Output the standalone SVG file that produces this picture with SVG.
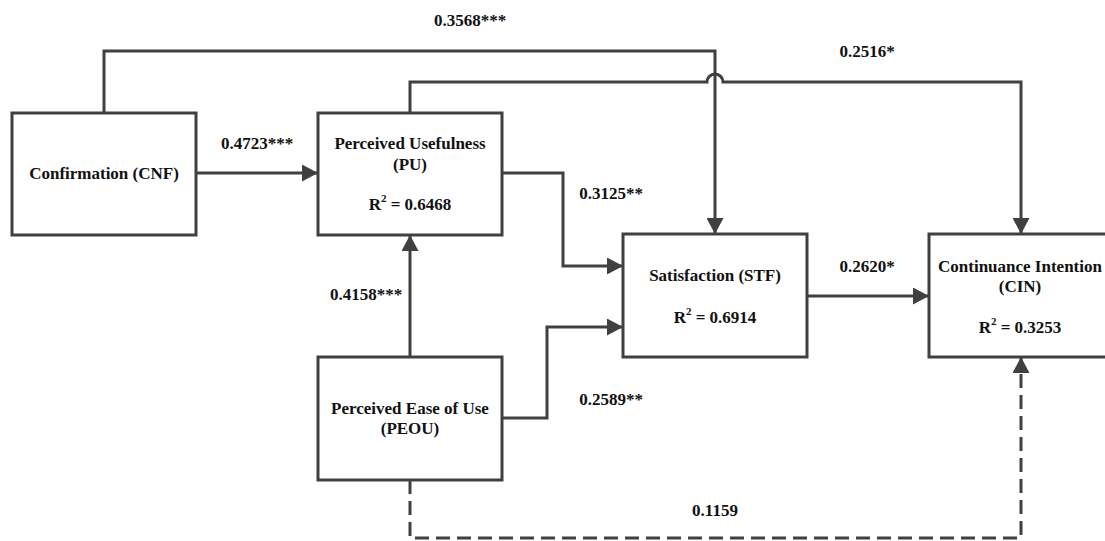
<svg xmlns="http://www.w3.org/2000/svg" width="1105" height="541" viewBox="0 0 1105 541">
<defs>
<marker id="arr" markerWidth="16" markerHeight="17" refX="16" refY="8.5" orient="auto" markerUnits="userSpaceOnUse">
<path d="M0,0 L16,8.5 L0,17 Z" fill="#404040"/>
</marker>
<style>
.box{fill:#fff;stroke:#404040;stroke-width:3}
.ln{fill:none;stroke:#404040;stroke-width:3}
.dash{stroke-dasharray:14 7}
text{font-family:"Liberation Serif","Times New Roman",serif;font-weight:bold;font-size:17px;fill:#111;text-anchor:middle;dominant-baseline:central}
</style>
</defs>
<rect width="1105" height="541" fill="#fff"/>
<g id="connectors">
<path class="ln" d="M104,113 V51 H715 V234" marker-end="url(#arr)"/>
<path class="ln" d="M410,113 V82 H707 A8,8 0 0 1 723,82 H1021 V234" marker-end="url(#arr)"/>
<path class="ln" d="M196,173 H318" marker-end="url(#arr)"/>
<path class="ln" d="M502,173 H563 V266 H623" marker-end="url(#arr)"/>
<path class="ln" d="M502,418 H547 V327 H623" marker-end="url(#arr)"/>
<path class="ln" d="M410,357 V235" marker-end="url(#arr)"/>
<path class="ln" d="M807,296 H929" marker-end="url(#arr)"/>
<path class="ln dash" d="M410,480 V538 H1021 V357" marker-end="url(#arr)"/>
</g>
<g id="CNF">
<rect class="box" x="12" y="113" width="184" height="122"/>
<text x="104" y="173">Confirmation (CNF)</text>
</g>
<g id="PU">
<rect class="box" x="318" y="113" width="184" height="122"/>
<text x="410" y="143">Perceived Usefulness</text>
<text x="410" y="164">(PU)</text>
<text x="410" y="204">R<tspan font-size="11" dy="-6">2</tspan><tspan dy="6"> = 0.6468</tspan></text>
</g>
<g id="STF">
<rect class="box" x="623" y="234" width="184" height="123"/>
<text x="715" y="275">Satisfaction (STF)</text>
<text x="715" y="317">R<tspan font-size="11" dy="-6">2</tspan><tspan dy="6"> = 0.6914</tspan></text>
</g>
<g id="CIN">
<rect class="box" x="929" y="234" width="184" height="123"/>
<text x="1020" y="266">Continuance Intention</text>
<text x="1020" y="286">(CIN)</text>
<text x="1020" y="327">R<tspan font-size="11" dy="-6">2</tspan><tspan dy="6"> = 0.3253</tspan></text>
</g>
<g id="PEOU">
<rect class="box" x="318" y="357" width="184" height="123"/>
<text x="410" y="408">Perceived Ease of Use</text>
<text x="410" y="428">(PEOU)</text>
</g>
<g id="labels">
<text x="470" y="20">0.3568***</text>
<text x="257" y="143">0.4723***</text>
<text x="867" y="51">0.2516*</text>
<text x="611" y="193">0.3125**</text>
<text x="366" y="294">0.4158***</text>
<text x="867" y="266">0.2620*</text>
<text x="611" y="399">0.2589**</text>
<text x="715" y="510">0.1159</text>
</g>
</svg>
